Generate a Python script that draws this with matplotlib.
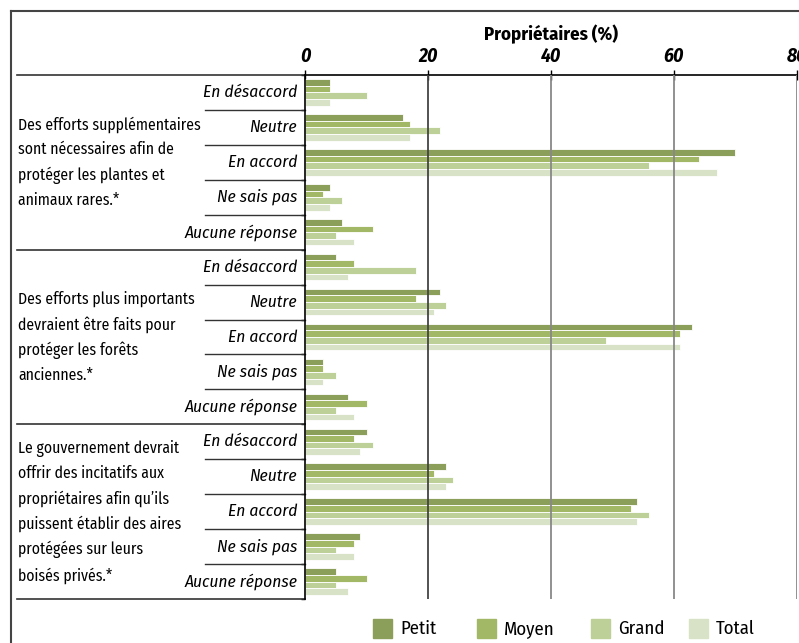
import matplotlib
matplotlib.use('Agg')
import matplotlib.pyplot as plt
from matplotlib.lines import Line2D
from matplotlib.patches import Rectangle
import numpy as np

plt.rcParams['font.family'] = ['Fira Sans Condensed', 'DejaVu Sans']

# Survey statements (left column) and answer options
statements = [
    "Des efforts supplémentaires\nsont nécessaires afin de\nprotéger les plantes et\nanimaux rares.*",
    "Des efforts plus importants\ndevraient être faits pour\nprotéger les forêts\nanciennes.*",
    "Le gouvernement devrait\noffrir des incitatifs aux\npropriétaires afin qu’ils\npuissent établir des aires\nprotégées sur leurs\nboisés privés.*",
]
answers = ["En désaccord", "Neutre", "En accord", "Ne sais pas", "Aucune réponse"]

series = ["Petit", "Moyen", "Grand", "Total"]
colors = ["#8b9e5a", "#a3b867", "#bdd097", "#d7e2c6"]

# Percent of owners, one list per statement, rows follow `answers`
petit = [4, 16, 70, 4, 6,
         5, 22, 63, 3, 7,
         10, 23, 54, 9, 5]
moyen = [4, 17, 64, 3, 11,
         8, 18, 61, 3, 10,
         8, 21, 53, 8, 10]
grand = [10, 22, 56, 6, 5,
         18, 23, 49, 5, 5,
         11, 24, 56, 5, 5]
total = [4, 17, 67, 4, 8,
         7, 21, 61, 3, 8,
         9, 23, 54, 8, 7]
values = [petit, moyen, grand, total]

W, H = 799, 643
fig = plt.figure(figsize=(W / 100, H / 100), dpi=100)
x0, x1, y0, y1 = 305, 797, 75, 599
ax = fig.add_axes([x0 / W, 1 - y1 / H, (x1 - x0) / W, (y1 - y0) / H])

n_rows = len(answers) * len(statements)
rows = np.arange(n_rows)
bar_h = 0.19
for j, (vals, col) in enumerate(zip(values, colors)):
    ax.barh(rows + 0.5 + (j - 1.5) * bar_h, vals, height=bar_h, color=col,
            edgecolor='white', linewidth=0.6, zorder=2, label=series[j])

ax.set_xlim(0, 80)
ax.set_ylim(n_rows, 0)
ax.set_xticks([0, 20, 40, 60, 80])
ax.xaxis.tick_top()
ax.tick_params(axis='x', direction='inout', length=7, width=1, pad=3,
               labelsize=14)
for lab in ax.get_xticklabels():
    lab.set_fontweight('bold')
    lab.set_fontstyle('italic')
ax.set_yticks(np.arange(n_rows + 1))
ax.set_yticklabels([])
ax.tick_params(axis='y', direction='out', length=3, width=1)
for x in [20, 40, 60, 80]:
    ax.axvline(x, color='#444444' if x == 20 else '#888888', lw=1.3, zorder=3)
for s in ['right', 'bottom']:
    ax.spines[s].set_visible(False)
ax.spines['top'].set_linewidth(1.2)
ax.spines['left'].set_linewidth(1.2)
ax.set_title("Propriétaires (%)", fontsize=13.5, fontweight='bold', pad=25)

# Left-hand table: answer labels, statement text and separators
trans = ax.get_yaxis_transform()
cat_x = (205 - x0) / (x1 - x0)
grp_x = (17 - x0) / (x1 - x0)
for g, text in enumerate(statements):
    base = g * len(answers)
    ax.text((18 - x0) / (x1 - x0), base + len(answers) / 2, text,
            transform=trans, ha='left', va='center', fontsize=11.3,
            linespacing=1.66)
    for k, ans in enumerate(answers):
        ax.text(-0.016, base + k + 0.5, ans, transform=trans, ha='right',
                va='center', fontsize=12.5, style='italic')
        if k > 0:
            ax.add_line(Line2D([cat_x, 0], [base + k, base + k],
                               transform=trans, color='#333333', lw=1,
                               clip_on=False))
    ax.add_line(Line2D([grp_x, 0], [base, base], transform=trans,
                       color='#333333', lw=1.2, clip_on=False))
ax.add_line(Line2D([grp_x, 0], [n_rows, n_rows], transform=trans,
                   color='#333333', lw=1.2, clip_on=False))

# Outer frame (top and left edges)
fig.add_artist(Line2D([11 / W, 1], [1 - 11 / H, 1 - 11 / H],
                      transform=fig.transFigure, color='#444444', lw=1.5))
fig.add_artist(Line2D([11 / W, 11 / W], [0, 1 - 11 / H],
                      transform=fig.transFigure, color='#444444', lw=1.5))

# Legend along the bottom
leg_x = [373, 477, 591, 689]
for sx, name, col in zip(leg_x, series, colors):
    fig.add_artist(Rectangle((sx / W, 1 - 638 / H), 19 / W, 19 / H,
                             transform=fig.transFigure, color=col))
    fig.text((sx + 27) / W, 1 - 634 / H, name, fontsize=13.5,
             va='baseline', ha='left')

fig.savefig('out.png', dpi=100)
